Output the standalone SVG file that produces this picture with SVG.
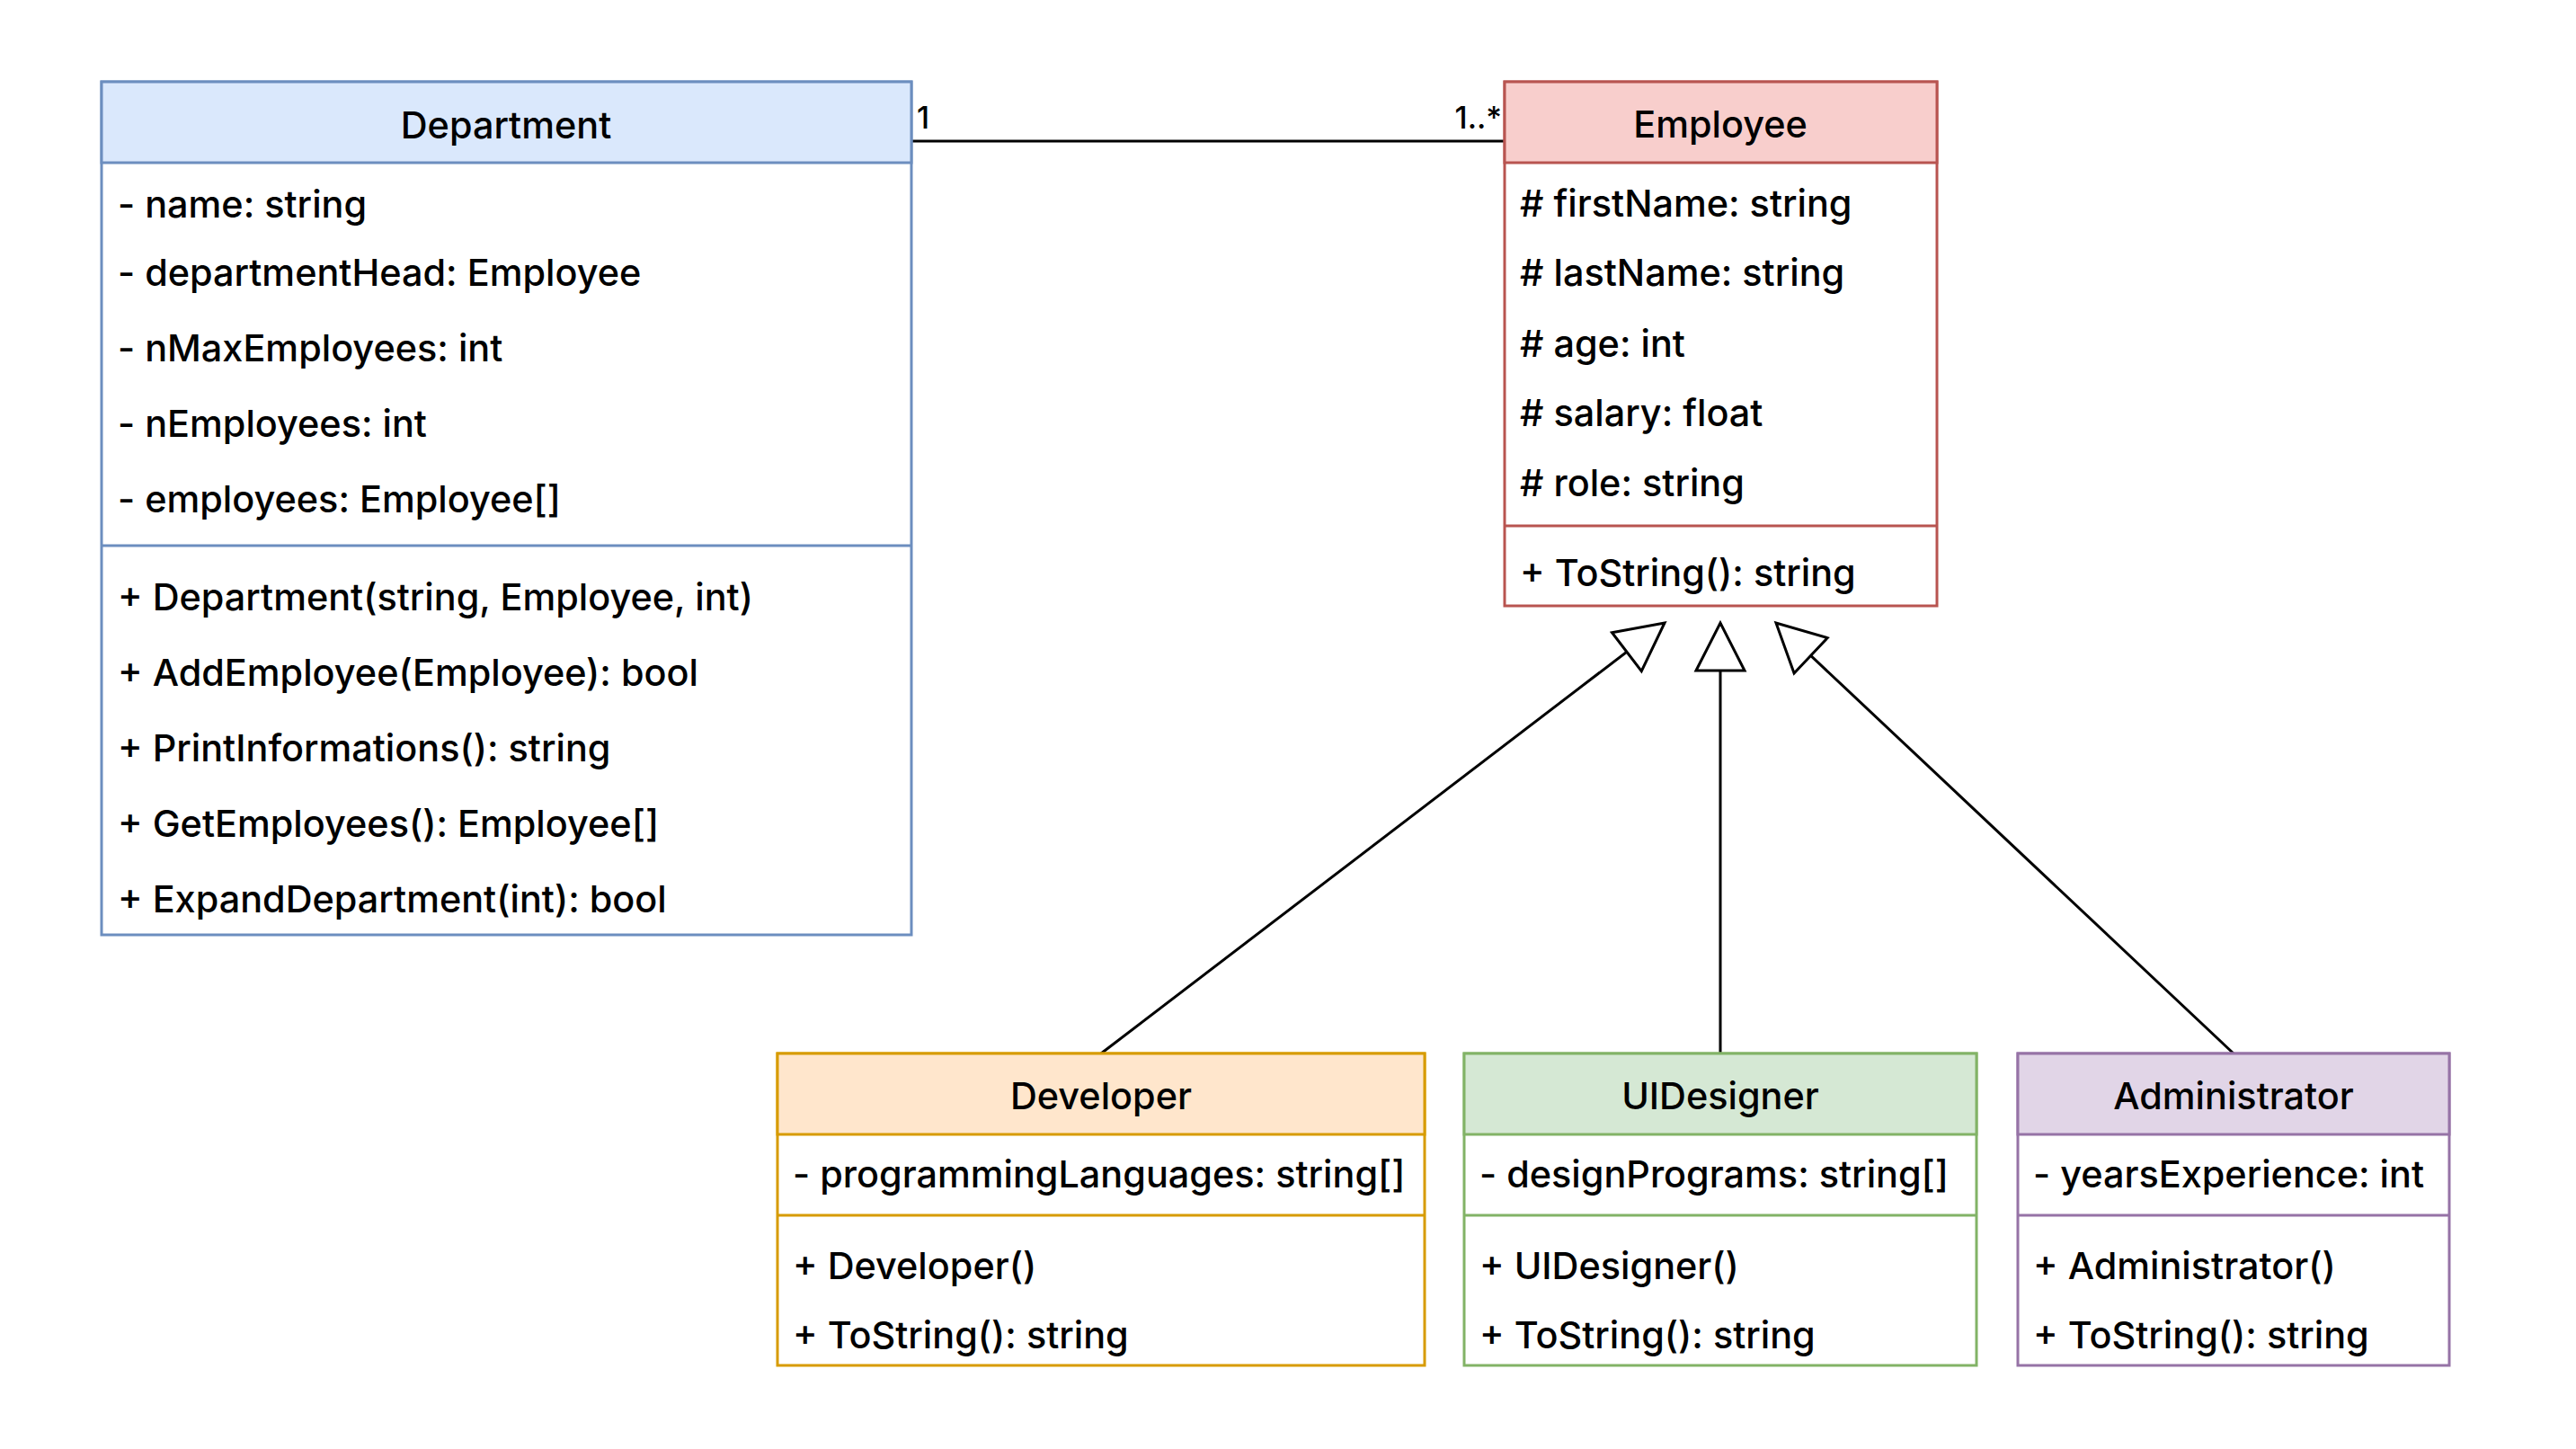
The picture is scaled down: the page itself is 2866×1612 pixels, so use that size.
<svg xmlns="http://www.w3.org/2000/svg" width="2866" height="1612" viewBox="0 0 2866 1612">
<defs>
<style>
text{font-family:Inter,"Liberation Sans",sans-serif;font-size:41.4px;font-weight:500;fill:#000}
.hd{text-anchor:middle}
.lbl{font-size:34px}
.box{stroke-width:3}
.conn{stroke:#000;stroke-width:3;fill:none}
</style>
<marker id="tri" markerUnits="userSpaceOnUse" markerWidth="80" markerHeight="80" refX="55" refY="30" orient="auto" overflow="visible">
<path d="M2,3 L55,30 L2,57 Z" fill="#fff" stroke="#000" stroke-width="3"/>
</marker>
</defs>
<rect width="2866" height="1612" fill="#fff"/>
<g id="connectors">
<path class="conn" d="M1015,157 L1674,157"/>
<text class="lbl" x="1020" y="143">1</text>
<text class="lbl" x="1671" y="143" text-anchor="end">1..*</text>
<path class="conn" d="M1225,1172 L1852,693" marker-end="url(#tri)"/>
<path class="conn" d="M1914,1172 L1914,693" marker-end="url(#tri)"/>
<path class="conn" d="M2485,1172 L1976,693" marker-end="url(#tri)"/>
</g>
<g id="department">
<rect class="box" x="113" y="91" width="901" height="949" fill="#fff" stroke="#6c8ebf"/>
<rect class="box" x="113" y="91" width="901" height="90" fill="#dae8fc" stroke="#6c8ebf"/>
<line x1="113" y1="607" x2="1014" y2="607" stroke="#6c8ebf" stroke-width="3"/>
<text class="hd" x="563" y="154">Department</text>
<text x="131" y="242">- name: string</text>
<text x="131" y="318">- departmentHead: Employee</text>
<text x="131" y="402">- nMaxEmployees: int</text>
<text x="131" y="486">- nEmployees: int</text>
<text x="131" y="570">- employees: Employee[]</text>
<text x="131" y="679">+ Department(string, Employee, int)</text>
<text x="131" y="763">+ AddEmployee(Employee): bool</text>
<text x="131" y="847">+ PrintInformations(): string</text>
<text x="131" y="931">+ GetEmployees(): Employee[]</text>
<text x="131" y="1015">+ ExpandDepartment(int): bool</text>
</g>
<g id="employee">
<rect class="box" x="1674" y="91" width="481" height="583" fill="#fff" stroke="#b85450"/>
<rect class="box" x="1674" y="91" width="481" height="90" fill="#f8cecc" stroke="#b85450"/>
<line x1="1674" y1="585" x2="2155" y2="585" stroke="#b85450" stroke-width="3"/>
<text class="hd" x="1914" y="153">Employee</text>
<text x="1691" y="241"># firstName: string</text>
<text x="1691" y="318"># lastName: string</text>
<text x="1691" y="397"># age: int</text>
<text x="1691" y="474"># salary: float</text>
<text x="1691" y="552"># role: string</text>
<text x="1691" y="652">+ ToString(): string</text>
</g>
<g id="developer">
<rect class="box" x="865" y="1172" width="720" height="347" fill="#fff" stroke="#d79b00"/>
<rect class="box" x="865" y="1172" width="720" height="90" fill="#ffe6cc" stroke="#d79b00"/>
<line x1="865" y1="1352" x2="1585" y2="1352" stroke="#d79b00" stroke-width="3"/>
<text class="hd" x="1225" y="1234">Developer</text>
<text x="882" y="1321">- programmingLanguages: string[]</text>
<text x="882" y="1423">+ Developer()</text>
<text x="882" y="1500">+ ToString(): string</text>
</g>
<g id="uidesigner">
<rect class="box" x="1629" y="1172" width="570" height="347" fill="#fff" stroke="#82b366"/>
<rect class="box" x="1629" y="1172" width="570" height="90" fill="#d5e8d4" stroke="#82b366"/>
<line x1="1629" y1="1352" x2="2199" y2="1352" stroke="#82b366" stroke-width="3"/>
<text class="hd" x="1914" y="1234">UIDesigner</text>
<text x="1646" y="1321">- designPrograms: string[]</text>
<text x="1646" y="1423">+ UIDesigner()</text>
<text x="1646" y="1500">+ ToString(): string</text>
</g>
<g id="administrator">
<rect class="box" x="2245" y="1172" width="480" height="347" fill="#fff" stroke="#9673a6"/>
<rect class="box" x="2245" y="1172" width="480" height="90" fill="#e1d5e7" stroke="#9673a6"/>
<line x1="2245" y1="1352" x2="2725" y2="1352" stroke="#9673a6" stroke-width="3"/>
<text class="hd" x="2485" y="1234">Administrator</text>
<text x="2262" y="1321">- yearsExperience: int</text>
<text x="2262" y="1423">+ Administrator()</text>
<text x="2262" y="1500">+ ToString(): string</text>
</g>
</svg>
